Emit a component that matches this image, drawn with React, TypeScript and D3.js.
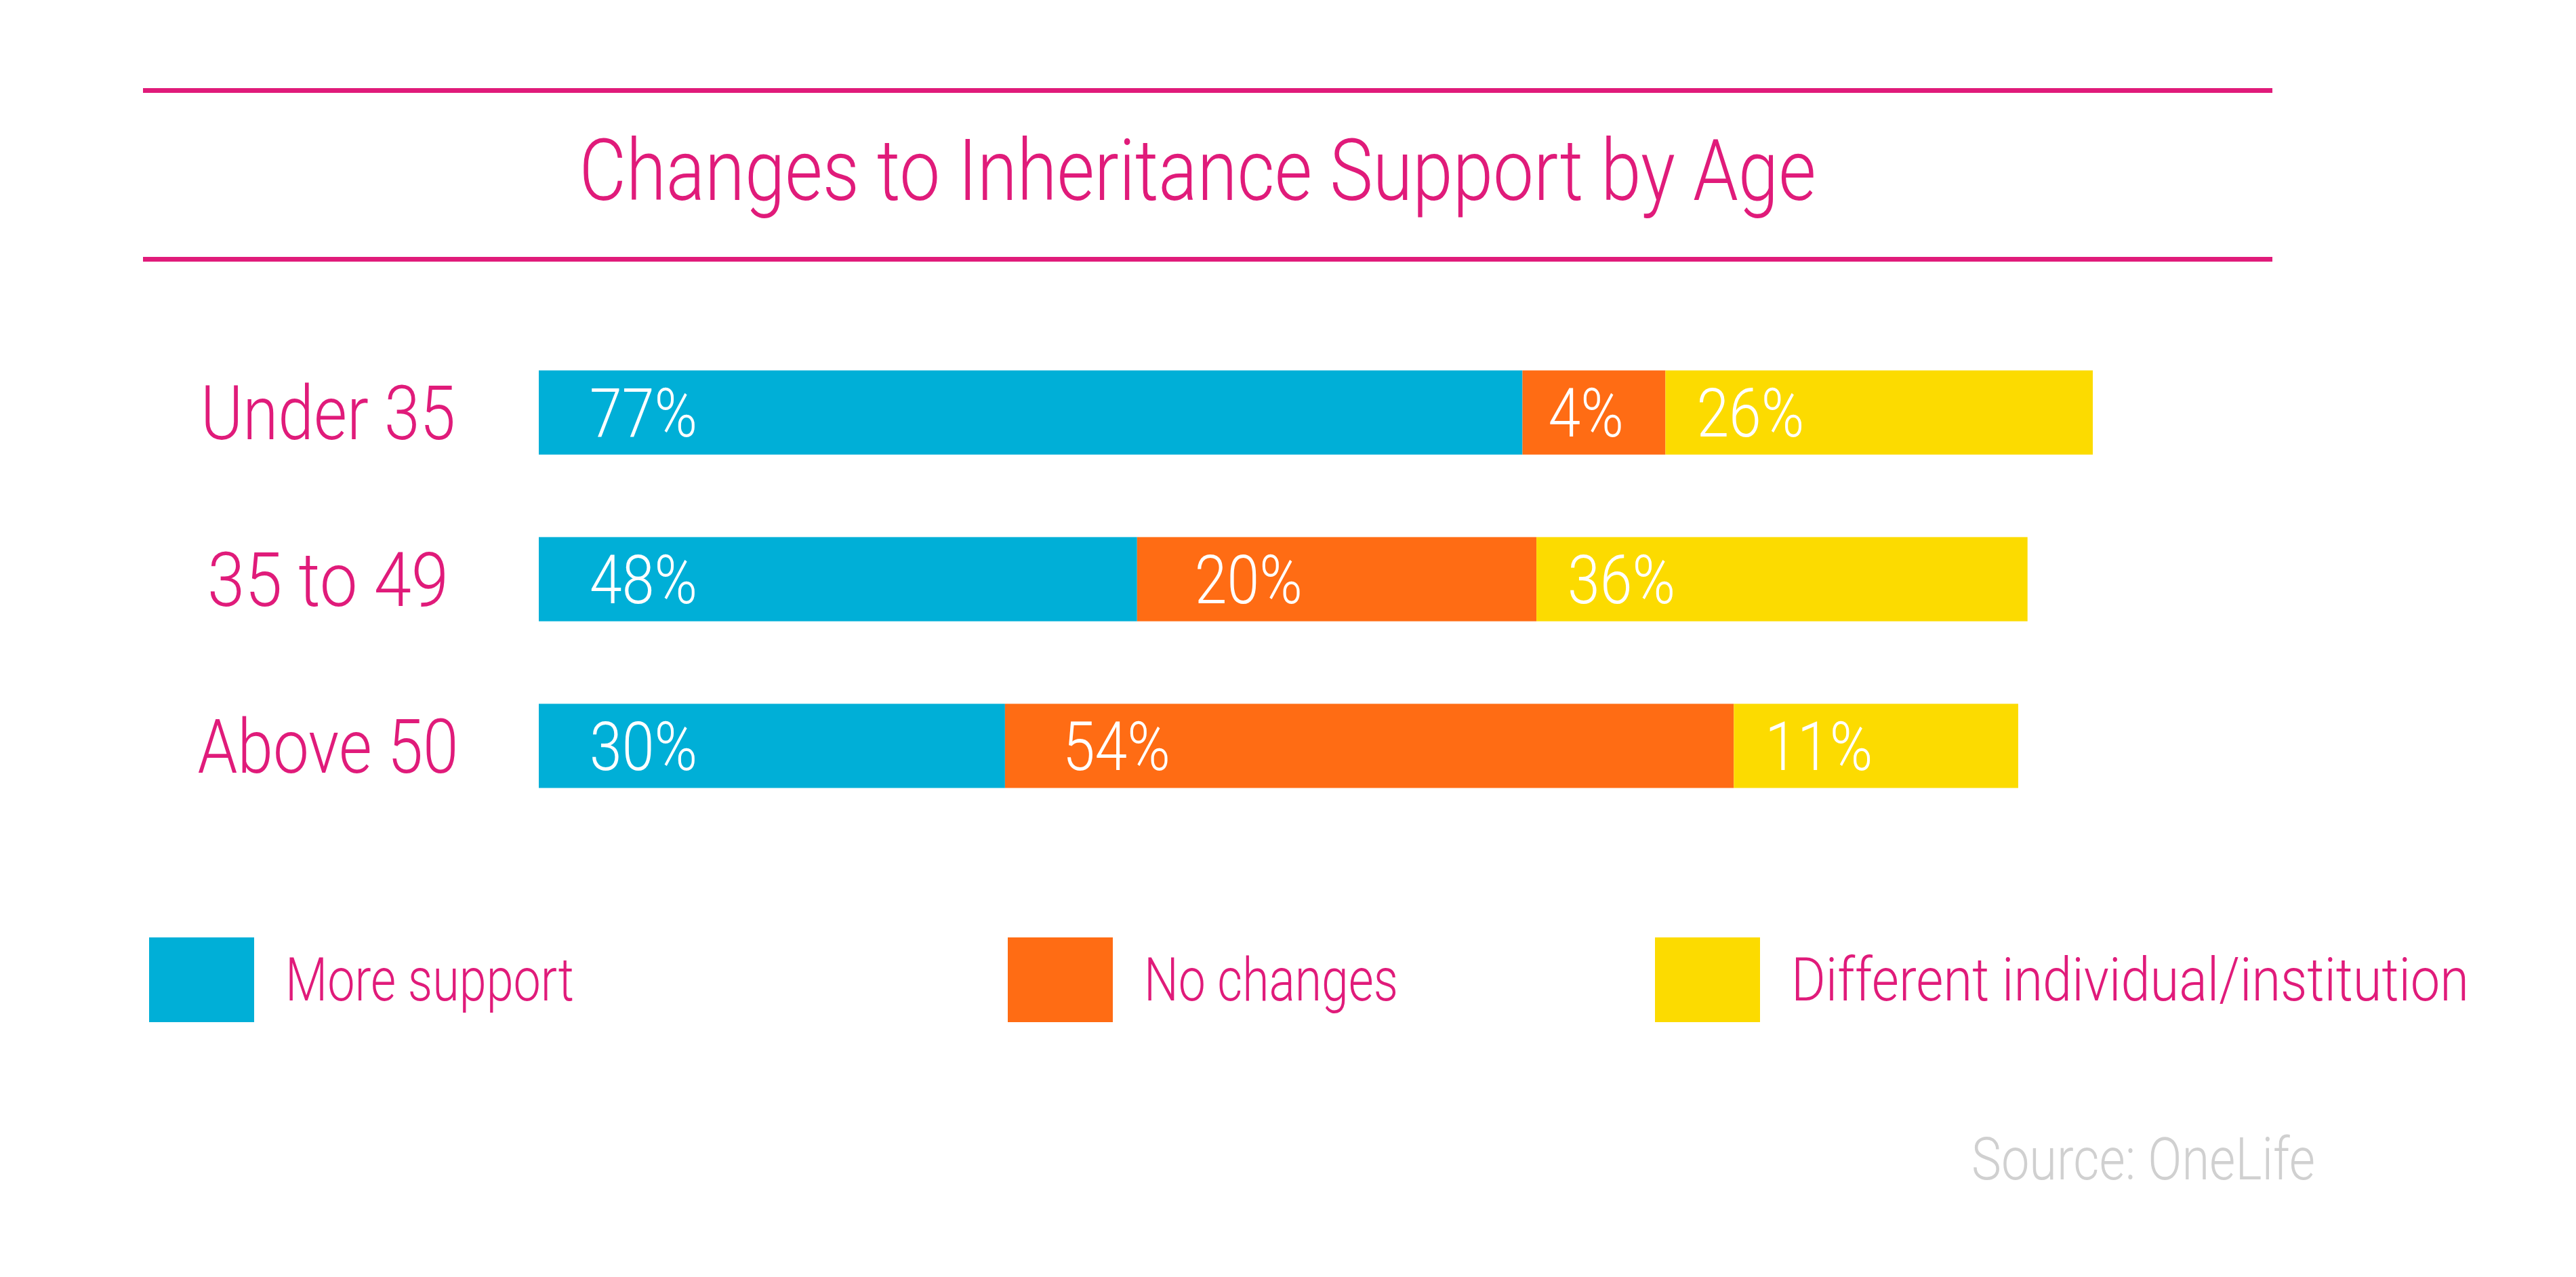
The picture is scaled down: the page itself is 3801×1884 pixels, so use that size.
import React from "react";
import * as d3 from "d3";

const categories = ["Under 35", "35 to 49", "Above 50"];
const seriesNames = ["More support", "No changes", "Different individual/institution"];

// Percent labels printed on the bars
const moreSupportLabel = [77, 48, 30];
const noChangesLabel = [4, 20, 54];
const differentLabel = [26, 36, 11];

// Drawn segment lengths (share of the full-width bar)
const moreSupportBar = [63.3, 38.5, 30.0];
const noChangesBar = [9.2, 25.7, 46.9];
const differentBar = [27.5, 31.6, 18.3];

const title = "Changes to Inheritance Support by Age";
const source = "Source: OneLife";

const COLORS = ["#00AFD7", "#FF6C14", "#FCDB00"];
const PINK = "#E01B7A";
const FONT = "Roboto, 'Noto Sans', sans-serif";

export default function App() {
  const W = 3801;
  const H = 1884;

  const rows = categories.map((c, i) => ({
    category: c,
    s0: moreSupportBar[i],
    s1: noChangesBar[i],
    s2: differentBar[i],
  }));
  const labels = [moreSupportLabel, noChangesLabel, differentLabel];

  const stack = d3.stack<any>().keys(["s0", "s1", "s2"]);
  const stacked = stack(rows);

  const x = d3.scaleLinear().domain([0, 100]).range([795, 3088]);
  const y = d3
    .scaleBand<string>()
    .domain(categories)
    .range([485, 1224])
    .paddingInner(0.495)
    .paddingOuter(0.25);

  const cap = 0.711;
  const catSize = 112;
  const pctSize = 100;
  const condense = 0.86;

  const legendX = [220, 1487, 2442];
  const legendTextW = [426, 375, 1000];

  return (
    <svg
      width={W}
      height={H}
      viewBox={`0 0 ${W} ${H}`}
      style={{ position: "absolute", left: 0, top: 0, display: "block", background: "#fff" }}
    >
      <rect x={0} y={0} width={W} height={H} fill="#fff" />
      {/* header rules */}
      <rect x={211} y={130} width={3142} height={7} fill={PINK} />
      <rect x={211} y={379} width={3142} height={7} fill={PINK} />
      <text
        x={1767}
        y={295}
        textAnchor="middle"
        fontFamily={FONT}
        fontWeight={300}
        fontSize={126}
        fill={PINK}
        textLength={1825}
        lengthAdjust="spacingAndGlyphs"
      >
        {title}
      </text>

      {/* category labels */}
      {categories.map((c, i) => {
        const cy = (y(c) as number) + y.bandwidth() / 2;
        const tw = [376, 356, 385][i];
        return (
          <text
            key={c}
            x={484}
            y={cy + (catSize * cap) / 2}
            textAnchor="middle"
            fontFamily={FONT}
            fontWeight={300}
            fontSize={catSize}
            fill={PINK}
            textLength={tw}
            lengthAdjust="spacingAndGlyphs"
          >
            {c}
          </text>
        );
      })}

      {/* bars */}
      {stacked.map((layer, si) => (
        <g key={si}>
          {layer.map((d, i) => {
            const c = categories[i];
            const x0 = x(d[0]);
            const x1 = x(d[1]);
            const by = y(c) as number;
            const w = x1 - x0;
            const inset = si === 0 ? 75 : si === 1 ? Math.min(85, w * 0.18) : 46;
            const cy = by + y.bandwidth() / 2;
            return (
              <g key={c}>
                <rect x={x0} y={by} width={w} height={y.bandwidth()} fill={COLORS[si]} />
                <text
                  transform={`translate(${x0 + inset},${cy + (pctSize * cap) / 2}) scale(${condense},1)`}
                  fontFamily={FONT}
                  fontWeight={300}
                  fontSize={pctSize}
                  fill="#fff"
                >
                  {labels[si][i]}%
                </text>
              </g>
            );
          })}
        </g>
      ))}

      {/* legend */}
      {seriesNames.map((s, i) => (
        <g key={s}>
          <rect x={legendX[i]} y={1383} width={155} height={125} fill={COLORS[i]} />
          <text
            x={legendX[i] + 155 + 46}
            y={1476}
            fontFamily={FONT}
            fontWeight={300}
            fontSize={89}
            fill={PINK}
            textLength={legendTextW[i]}
            lengthAdjust="spacingAndGlyphs"
          >
            {s}
          </text>
        </g>
      ))}

      <text
        x={3416}
        y={1740}
        textAnchor="end"
        fontFamily={FONT}
        fontWeight={300}
        fontSize={87}
        fill="#D0D0D0"
        textLength={507}
        lengthAdjust="spacingAndGlyphs"
      >
        {source}
      </text>
    </svg>
  );
}
